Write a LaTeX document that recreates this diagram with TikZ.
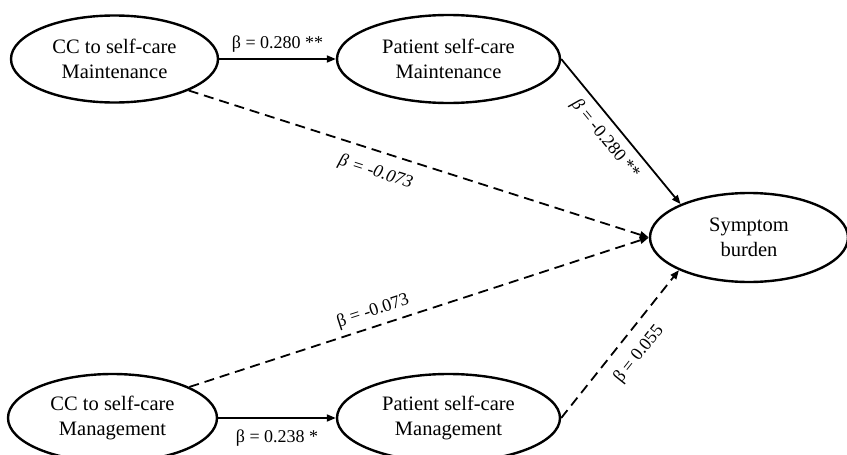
\documentclass[tikz,border=0pt]{standalone}
\usepackage{fontspec}
\setmainfont{Liberation Serif}
\usetikzlibrary{arrows.meta,shapes.geometric}
\begin{document}
\begin{tikzpicture}[x=1pt,y=-1pt,
 ell/.style={draw, ellipse, line width=2.4pt, inner sep=0pt, align=center, font=\fontsize{20.5}{25}\selectfont},
 conn/.style={line width=1.8pt, -{Triangle[length=9pt,width=7pt]}},
 dconn/.style={conn, dash pattern=on 10pt off 6pt},
 lab/.style={font=\fontsize{18}{21}\selectfont, inner sep=0pt, sloped}]
\useasboundingbox (0,0) rectangle (847,455);
\node[ell, minimum width=207pt, minimum height=87pt] (A) at (114.5,59) {CC to self-care\\Maintenance};
\node[ell, minimum width=223pt, minimum height=88pt] (B) at (448.5,59) {Patient self-care\\Maintenance};
\node[ell, minimum width=198pt, minimum height=89pt] (S) at (749,237.5) {Symptom\\burden};
\node[ell, minimum width=209pt, minimum height=88pt] (C) at (112.5,418) {CC to self-care\\Management};
\node[ell, minimum width=223pt, minimum height=88pt] (D) at (448.5,418) {Patient self-care\\Management};
\draw[conn] (A) -- node[lab, above=6pt]{β = 0.280 **} (B);
\draw[dconn] (A.-23) -- node[lab, below=12pt, pos=0.42]{\textit{β = -0.073}} (S.west);
\draw[conn] (B.east) -- node[lab, below=8pt, pos=0.48]{\textit{β} = -0.280 **} (S.154);
\draw[dconn] (C.22) -- node[lab, above=6pt, pos=0.41]{β = -0.073} (S.west);
\draw[dconn] (D.east) -- node[lab, below=12pt, pos=0.52]{β = 0.055} (S.205);
\draw[conn] (C) -- node[lab, below=11pt]{β = 0.238 *} (D);
\end{tikzpicture}
\end{document}
